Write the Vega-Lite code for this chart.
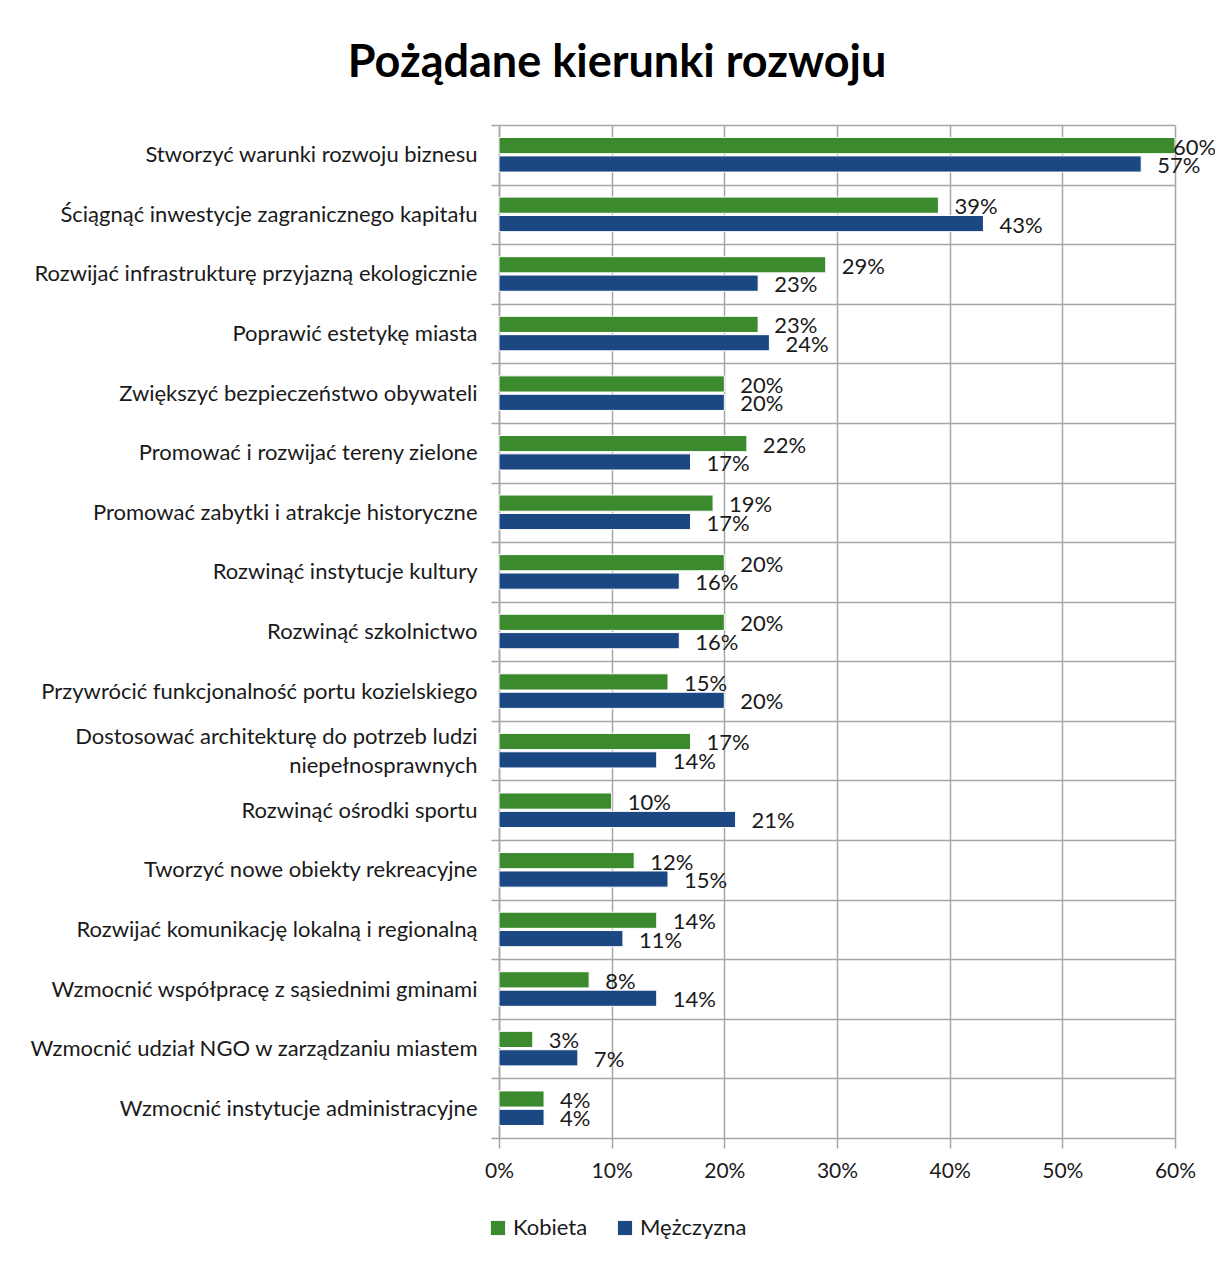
{
  "$schema": "https://vega.github.io/schema/vega-lite/v6.json",
  "width": 676,
  "height": 1013,
  "autosize": {"type": "none"},
  "padding": {"left": 499, "top": 125, "right": 40, "bottom": 123},
  "background": "white",
  "title": {
    "text": "Pożądane kierunki rozwoju",
    "font": "Lato",
    "fontSize": 45,
    "fontWeight": "bold",
    "color": "#000000",
    "anchor": "middle",
    "frame": "group",
    "dx": -220,
    "dy": 55,
    "baseline": "alphabetic",
    "offset": 47
  },
  "data": {
    "values": [
      {"cat": "Stworzyć warunki rozwoju biznesu", "sex": "Kobieta", "v": 0.60},
      {"cat": "Stworzyć warunki rozwoju biznesu", "sex": "Mężczyzna", "v": 0.57},
      {"cat": "Ściągnąć inwestycje zagranicznego kapitału", "sex": "Kobieta", "v": 0.39},
      {"cat": "Ściągnąć inwestycje zagranicznego kapitału", "sex": "Mężczyzna", "v": 0.43},
      {"cat": "Rozwijać infrastrukturę przyjazną ekologicznie", "sex": "Kobieta", "v": 0.29},
      {"cat": "Rozwijać infrastrukturę przyjazną ekologicznie", "sex": "Mężczyzna", "v": 0.23},
      {"cat": "Poprawić estetykę miasta", "sex": "Kobieta", "v": 0.23},
      {"cat": "Poprawić estetykę miasta", "sex": "Mężczyzna", "v": 0.24},
      {"cat": "Zwiększyć bezpieczeństwo obywateli", "sex": "Kobieta", "v": 0.20},
      {"cat": "Zwiększyć bezpieczeństwo obywateli", "sex": "Mężczyzna", "v": 0.20},
      {"cat": "Promować i rozwijać tereny zielone", "sex": "Kobieta", "v": 0.22},
      {"cat": "Promować i rozwijać tereny zielone", "sex": "Mężczyzna", "v": 0.17},
      {"cat": "Promować zabytki i atrakcje historyczne", "sex": "Kobieta", "v": 0.19},
      {"cat": "Promować zabytki i atrakcje historyczne", "sex": "Mężczyzna", "v": 0.17},
      {"cat": "Rozwinąć instytucje kultury", "sex": "Kobieta", "v": 0.20},
      {"cat": "Rozwinąć instytucje kultury", "sex": "Mężczyzna", "v": 0.16},
      {"cat": "Rozwinąć szkolnictwo", "sex": "Kobieta", "v": 0.20},
      {"cat": "Rozwinąć szkolnictwo", "sex": "Mężczyzna", "v": 0.16},
      {"cat": "Przywrócić funkcjonalność portu kozielskiego", "sex": "Kobieta", "v": 0.15},
      {"cat": "Przywrócić funkcjonalność portu kozielskiego", "sex": "Mężczyzna", "v": 0.20},
      {"cat": "Dostosować architekturę do potrzeb ludzi niepełnosprawnych", "sex": "Kobieta", "v": 0.17},
      {"cat": "Dostosować architekturę do potrzeb ludzi niepełnosprawnych", "sex": "Mężczyzna", "v": 0.14},
      {"cat": "Rozwinąć ośrodki sportu", "sex": "Kobieta", "v": 0.10},
      {"cat": "Rozwinąć ośrodki sportu", "sex": "Mężczyzna", "v": 0.21},
      {"cat": "Tworzyć nowe obiekty rekreacyjne", "sex": "Kobieta", "v": 0.12},
      {"cat": "Tworzyć nowe obiekty rekreacyjne", "sex": "Mężczyzna", "v": 0.15},
      {"cat": "Rozwijać komunikację lokalną i regionalną", "sex": "Kobieta", "v": 0.14},
      {"cat": "Rozwijać komunikację lokalną i regionalną", "sex": "Mężczyzna", "v": 0.11},
      {"cat": "Wzmocnić współpracę z sąsiednimi gminami", "sex": "Kobieta", "v": 0.08},
      {"cat": "Wzmocnić współpracę z sąsiednimi gminami", "sex": "Mężczyzna", "v": 0.14},
      {"cat": "Wzmocnić udział NGO w zarządzaniu miastem", "sex": "Kobieta", "v": 0.03},
      {"cat": "Wzmocnić udział NGO w zarządzaniu miastem", "sex": "Mężczyzna", "v": 0.07},
      {"cat": "Wzmocnić instytucje administracyjne", "sex": "Kobieta", "v": 0.04},
      {"cat": "Wzmocnić instytucje administracyjne", "sex": "Mężczyzna", "v": 0.04}
    ]
  },
  "encoding": {
    "y": {
      "field": "cat",
      "type": "nominal",
      "sort": null,
      "title": null,
      "scale": {"paddingInner": 0, "paddingOuter": 0},
      "axis": {
        "tickBand": "extent",
        "grid": true,
        "gridColor": "#a6a6a6",
        "gridWidth": 1.5,
        "tickColor": "#a6a6a6",
        "tickWidth": 1.5,
        "tickSize": 8,
        "domainColor": "#a6a6a6",
        "domainWidth": 1.5,
        "labelFont": "Lato",
        "labelFontSize": 22,
        "labelColor": "#1a1a1a",
        "labelPadding": 14,
        "labelLimit": 0,
        "labelLineHeight": 29,
        "labelOffset": {"condition": {"test": "datum.value == 'Dostosować architekturę do potrzeb ludzi niepełnosprawnych'", "value": -14}, "value": 0},
        "labelExpr": "datum.value == 'Dostosować architekturę do potrzeb ludzi niepełnosprawnych' ? ['Dostosować architekturę do potrzeb ludzi', 'niepełnosprawnych'] : datum.value"
      }
    },
    "x": {
      "field": "v",
      "type": "quantitative",
      "title": null,
      "scale": {"domain": [0, 0.6], "nice": false},
      "axis": {
        "format": ".0%",
        "values": [0, 0.1, 0.2, 0.3, 0.4, 0.5, 0.6],
        "grid": true,
        "gridColor": "#a6a6a6",
        "gridWidth": 1.5,
        "tickColor": "#a6a6a6",
        "tickWidth": 1.5,
        "tickSize": 10,
        "domain": false,
        "labelFont": "Lato",
        "labelFontSize": 21,
        "labelColor": "#1a1a1a",
        "labelPadding": 12,
        "labelFlush": false
      }
    },
    "yOffset": {
      "field": "sex",
      "type": "nominal",
      "sort": ["Kobieta", "Mężczyzna"],
      "scale": {"paddingInner": 0.12, "paddingOuter": 0.68}
    }
  },
  "layer": [
    {
      "mark": {"type": "bar", "stroke": "white", "strokeWidth": 1},
      "encoding": {
        "color": {
          "field": "sex",
          "type": "nominal",
          "sort": ["Kobieta", "Mężczyzna"],
          "scale": {"domain": ["Kobieta", "Mężczyzna"], "range": ["#3c8a2e", "#1b4882"]},
          "legend": {
            "title": null,
            "orient": "none",
            "legendX": -12,
            "legendY": 1092,
            "direction": "horizontal",
            "symbolType": "square",
            "symbolSize": 200,
            "symbolStrokeWidth": 0,
            "labelFont": "Lato",
            "labelFontSize": 22,
            "labelColor": "#1a1a1a",
            "labelOffset": 4,
            "columnPadding": 26
          }
        }
      }
    },
    {
      "transform": [{"filter": "datum.v < 0.595"}],
      "mark": {
        "type": "text",
        "align": "left",
        "baseline": "middle",
        "dx": 16,
        "dy": 2,
        "font": "Lato",
        "fontSize": 22,
        "color": "#1a1a1a"
      },
      "encoding": {
        "text": {"field": "v", "type": "quantitative", "format": ".0%"}
      }
    },
    {
      "transform": [{"filter": "datum.v >= 0.595"}],
      "mark": {
        "type": "text",
        "align": "left",
        "baseline": "middle",
        "dx": -2,
        "dy": 2,
        "font": "Lato",
        "fontSize": 22,
        "color": "#1a1a1a"
      },
      "encoding": {
        "text": {"field": "v", "type": "quantitative", "format": ".0%"}
      }
    }
  ],
  "config": {
    "view": {"stroke": null}
  }
}
